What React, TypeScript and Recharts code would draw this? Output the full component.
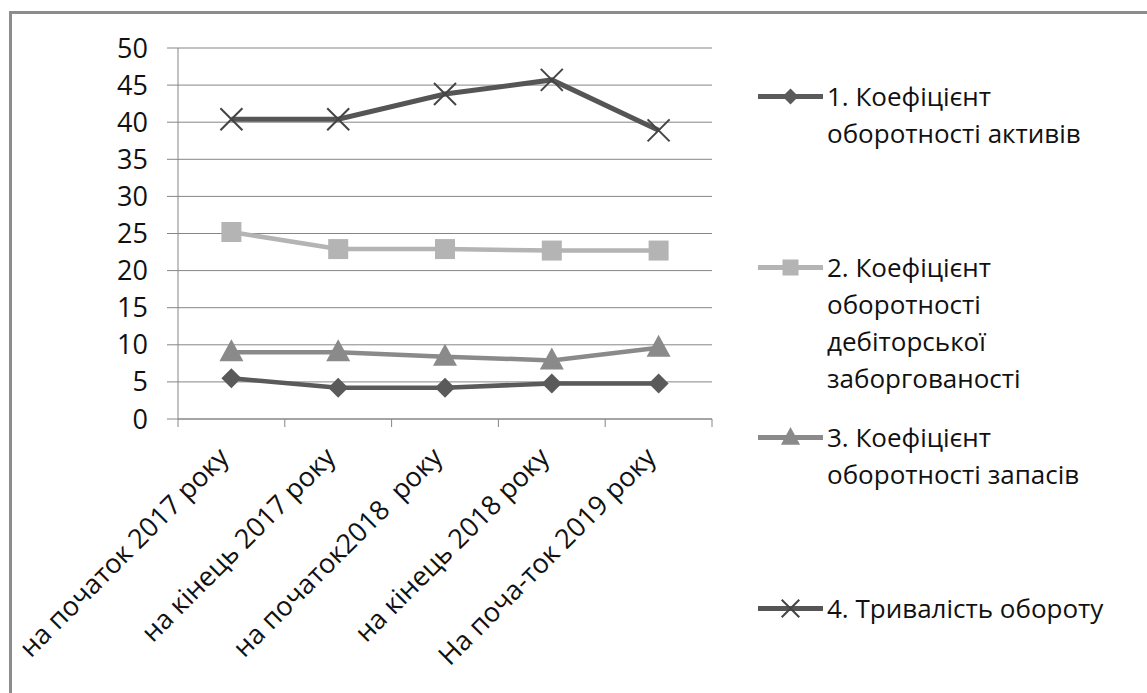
import React from "react";
import { LineChart, Line, XAxis, YAxis, CartesianGrid } from "recharts";

const categories = [
  "на початок 2017 року",
  "на кінець 2017 року",
  "на початок2018  року",
  "на кінець 2018 року",
  "На поча-ток 2019 року",
];

const assetTurnover = [5.5, 4.2, 4.2, 4.8, 4.8];
const receivablesTurnover = [25.2, 22.9, 22.9, 22.7, 22.7];
const inventoryTurnover = [9.0, 9.0, 8.4, 7.9, 9.6];
const turnoverDuration = [40.4, 40.4, 43.8, 45.7, 38.9];

const seriesNames = [
  "1. Коефіцієнт\nоборотності активів",
  "2. Коефіцієнт\nоборотності\nдебіторської\nзаборгованості",
  "3. Коефіцієнт\nоборотності запасів",
  "4. Тривалість обороту",
];

const yTicks = [0, 5, 10, 15, 20, 25, 30, 35, 40, 45, 50];

const FONT = "'Open Sans', sans-serif";
const GRID = "#868686";

const data = categories.map((label, i) => ({
  label,
  s1: assetTurnover[i],
  s2: receivablesTurnover[i],
  s3: inventoryTurnover[i],
  s4: turnoverDuration[i],
}));

type MarkerProps = { cx: number; cy: number; color: string; k?: number };

// k scales the marker (legend markers are a bit smaller)
const Diamond = ({ cx, cy, color, k = 1 }: MarkerProps) => (
  <polygon
    points={`${cx},${cy - 10 * k} ${cx + 10 * k},${cy} ${cx},${cy + 10 * k} ${cx - 10 * k},${cy}`}
    fill={color}
  />
);

const Square = ({ cx, cy, color, k = 1 }: MarkerProps) => (
  <rect x={cx - 10 * k} y={cy - 10 * k} width={20 * k} height={20 * k} fill={color} />
);

const Triangle = ({ cx, cy, color, k = 1 }: MarkerProps) => (
  <polygon
    points={`${cx},${cy - 13 * k} ${cx + 12 * k},${cy + 9 * k} ${cx - 12 * k},${cy + 9 * k}`}
    fill={color}
  />
);

const Cross = ({ cx, cy, color, k = 1 }: MarkerProps) => (
  <g stroke={color} strokeWidth={2}>
    <line x1={cx - 11 * k} y1={cy - 11 * k} x2={cx + 11 * k} y2={cy + 11 * k} />
    <line x1={cx - 11 * k} y1={cy + 11 * k} x2={cx + 11 * k} y2={cy - 11 * k} />
  </g>
);

const series = [
  { key: "s1", color: "#5a5a5a", width: 4.5, Marker: Diamond, markerColor: "#5a5a5a" },
  { key: "s2", color: "#b4b4b4", width: 4.5, Marker: Square, markerColor: "#b4b4b4" },
  { key: "s3", color: "#8a8a8a", width: 4.5, Marker: Triangle, markerColor: "#8a8a8a" },
  { key: "s4", color: "#555555", width: 5, Marker: Cross, markerColor: "#444444" },
];

const BAND = 534 / categories.length;

const CategoryTick = (props: any) => {
  const { x, y, payload, index } = props;
  const axisY = y - 8;
  const ax = x - 1;
  const ay = axisY + 40;
  return (
    <g>
      <line x1={x - BAND / 2} y1={axisY} x2={x - BAND / 2} y2={axisY + 8} stroke={GRID} />
      {index === categories.length - 1 && (
        <line x1={x + BAND / 2} y1={axisY} x2={x + BAND / 2} y2={axisY + 8} stroke={GRID} />
      )}
      <text
        x={ax}
        y={ay}
        textAnchor="end"
        transform={`rotate(-45, ${ax}, ${ay})`}
        fontFamily={FONT}
        fontSize={27}
        fill="#111"
        style={{ whiteSpace: "pre" }}
      >
        {payload.value}
      </text>
    </g>
  );
};

function Legend() {
  return (
    <div style={{ position: "absolute", left: 757, top: 78 }}>
      {series.map((s, i) => (
        <div
          key={s.key}
          style={{ position: "absolute", left: 0, top: i * 170.5, width: 390, display: "flex" }}
        >
          <svg width={70} height={37} style={{ flex: "none" }}>
            <line x1={1} y1={18.5} x2={66} y2={18.5} stroke={s.color} strokeWidth={5} />
            <s.Marker cx={33.5} cy={18.5} color={s.markerColor} k={0.8} />
          </svg>
          <div
            style={{
              fontFamily: FONT,
              fontSize: 26,
              lineHeight: "37px",
              color: "#111",
              whiteSpace: "pre-line",
            }}
          >
            {seriesNames[i]}
          </div>
        </div>
      ))}
    </div>
  );
}

export default function App() {
  return (
    <div
      style={{
        position: "absolute",
        left: 0,
        top: 0,
        width: 1147,
        height: 693,
        background: "#fff",
        overflow: "hidden",
      }}
    >
      <div
        style={{
          position: "absolute",
          left: 9,
          top: 11,
          width: 1200,
          height: 800,
          borderTop: "3px solid #8c8c8c",
          borderLeft: "3px solid #8c8c8c",
        }}
      />
      <div style={{ position: "absolute", left: 0, top: 0 }}>
        <LineChart
          width={1147}
          height={693}
          data={data}
          margin={{ top: 48, right: 435, bottom: 0, left: 0 }}
        >
          <CartesianGrid vertical={false} stroke={GRID} strokeWidth={1} />
          <XAxis
            dataKey="label"
            height={274}
            padding={{ left: BAND / 2, right: BAND / 2 }}
            axisLine={{ stroke: GRID }}
            tickLine={false}
            tickSize={8}
            tickMargin={0}
            interval={0}
            tick={<CategoryTick />}
          />
          <YAxis
            width={178}
            domain={[0, 50]}
            ticks={yTicks}
            interval={0}
            axisLine={{ stroke: GRID }}
            tickLine={{ stroke: GRID }}
            tickSize={11}
            tickMargin={19}
            tick={{ fontFamily: FONT, fontSize: 27, fill: "#111" }}
          />
          {series.map((s) => (
            <Line
              key={s.key}
              dataKey={s.key}
              type="linear"
              stroke={s.color}
              strokeWidth={s.width}
              isAnimationActive={false}
              dot={(p: any) => (
                <s.Marker key={`${s.key}-${p.index}`} cx={p.cx} cy={p.cy} color={s.markerColor} />
              )}
              activeDot={false}
            />
          ))}
        </LineChart>
      </div>
      <Legend />
    </div>
  );
}
